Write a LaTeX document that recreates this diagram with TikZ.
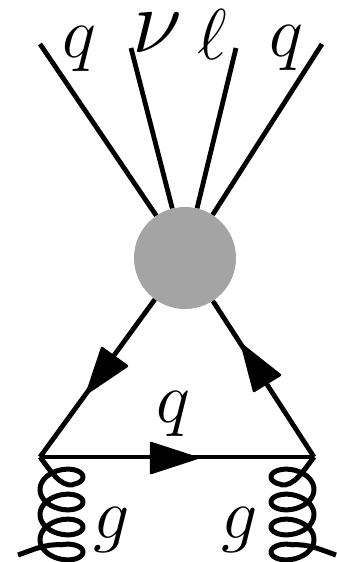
\documentclass[tikz,border=0pt]{standalone}
\tikzset{
  x=1pt,y=-1pt,
  wire/.style={line width=4.8pt},
  coil/.style={line width=5pt,line join=round},
  head/.style={fill=black,draw=black,line width=2.5pt,line join=round},
  lab/.style={inner sep=0pt,font=\large,scale=6},
  biglab/.style={inner sep=0pt,font=\large,scale=7.6},
  blobstyle/.style={circle,fill=blobgray,inner sep=0pt,minimum size=102pt},
}
\definecolor{blobgray}{HTML}{A4A4A4}
\newcommand{\gluoncoil}{%
  \draw[coil] (40,457) .. controls (50,470) and (60,487) .. (73,484.8)
    -- plot[domain=-1:20.42,samples=170,variable=\t]
      ({61.5+21.5*cos(\t r)},{477+3.98*\t-13.5*sin(\t r)})
    .. controls (45,544) and (35,549) .. (18,555);}
\begin{document}
\begin{tikzpicture}
\useasboundingbox (0,0) rectangle (337,562);
\node[blobstyle] (blob) at (185,258) {};
\coordinate (qa) at (40,44);
\coordinate (nu) at (131,48);
\coordinate (el) at (236,48);
\coordinate (qb) at (322,44);
\coordinate (va) at (40,457);
\coordinate (vb) at (314,457);
\draw[wire] (qa) -- (blob);
\draw[wire] (nu) -- (blob);
\draw[wire] (el) -- (blob);
\draw[wire] (qb) -- (blob);
\draw[wire] (blob) -- (va);
\draw[wire] (vb) -- (blob);
\draw[wire,line join=round] (va) -- (vb);
\draw[head] (87,393) -- (102,348) -- (127,366) -- cycle;
\draw[head] (242,345) -- (254,391) -- (280,375) -- cycle;
\draw[head] (197,458) -- (151,443) -- (151,473) -- cycle;
\gluoncoil
\begin{scope}[xscale=-1,xshift=-354pt]
\gluoncoil
\end{scope}
\node[lab] (lqa) at (79,49) {$q$};
\node[biglab] (lnu) at (157,33) {$\nu$};
\node[lab] (lel) at (212,34) {$\ell$};
\node[lab] (lqb) at (286,48) {$q$};
\node[lab] (lq) at (173,414) {$q$};
\node[lab] (lga) at (112,530) {$g$};
\node[lab] (lgb) at (240,530) {$g$};
\end{tikzpicture}
\end{document}
